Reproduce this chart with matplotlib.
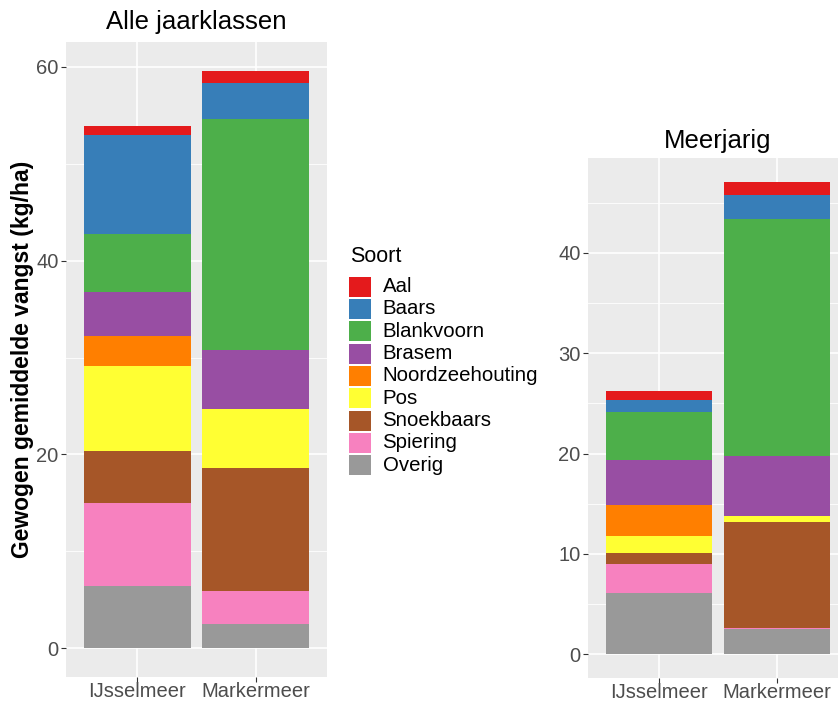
import matplotlib.pyplot as plt
from matplotlib.patches import Rectangle
from matplotlib.ticker import MultipleLocator
import numpy as np

plt.rcParams['font.family'] = ['Liberation Sans', 'DejaVu Sans']

W, H = 838, 702

meren = ['IJsselmeer', 'Markermeer']
soorten = ['Aal', 'Baars', 'Blankvoorn', 'Brasem', 'Noordzeehouting',
           'Pos', 'Snoekbaars', 'Spiering', 'Overig']
kleuren = ['#E41A1C', '#377EB8', '#4DAF4A', '#984EA3', '#FF7F00',
           '#FFFF33', '#A65628', '#F781BF', '#999999']

# vangst in kg/ha, zelfde volgorde als soorten
alle_ijsselmeer = [0.95, 10.25, 5.95, 4.55, 3.07, 8.82, 5.38, 8.54, 6.44]
alle_markermeer = [1.3, 3.7, 23.8, 6.1, 0.0, 6.14, 12.67, 3.41, 2.48]
meerjarig_ijsselmeer = [0.9, 1.25, 4.75, 4.47, 3.06, 1.79, 1.05, 2.86, 6.14]
meerjarig_markermeer = [1.3, 2.45, 23.55, 6.0, 0.0, 0.57, 10.57, 0.13, 2.53]


def px_axes(fig, x0, y0, x1, y1):
    # pixels (links-boven) naar figuurcoordinaten
    return fig.add_axes([x0 / W, 1 - y1 / H, (x1 - x0) / W, (y1 - y0) / H])


def teken_paneel(ax, ijssel, marker, titel, stap, titelpad):
    waarden = np.array([ijssel, marker])
    x = np.arange(len(meren))
    bodem = np.zeros(len(meren))
    # onderste soort eerst, net als in ggplot
    for i in reversed(range(len(soorten))):
        ax.bar(x, waarden[:, i], 0.9, bottom=bodem, color=kleuren[i], linewidth=0, zorder=2)
        bodem += waarden[:, i]
    top = bodem.max()
    ax.set_ylim(-0.05 * top, 1.05 * top)
    ax.set_xlim(-0.6, 1.6)
    ax.set_xticks(x)
    ax.set_xticklabels(meren)
    ax.yaxis.set_major_locator(MultipleLocator(stap))
    ax.yaxis.set_minor_locator(MultipleLocator(stap / 2))
    ax.set_facecolor('#EBEBEB')
    for s in ax.spines.values():
        s.set_visible(False)
    ax.set_axisbelow(True)
    ax.grid(which='major', color='white', linewidth=1.2, zorder=0)
    ax.grid(which='minor', axis='y', color='white', linewidth=0.6, zorder=0)
    ax.tick_params(which='major', length=3.3, width=0.8, color='#333333',
                   labelcolor='#4D4D4D', labelsize=14.5)
    ax.tick_params(axis='y', pad=2)
    ax.tick_params(axis='x', pad=0.5)
    ax.tick_params(which='minor', length=0)
    ax.set_title(titel, fontsize=18.5, pad=titelpad)


fig = plt.figure(figsize=(W / 100, H / 100), dpi=100)

ax1 = px_axes(fig, 66, 42, 327, 677)
teken_paneel(ax1, alle_ijsselmeer, alle_markermeer, 'Alle jaarklassen', 20, 9.5)

ax2 = px_axes(fig, 588, 158, 848, 678)
teken_paneel(ax2, meerjarig_ijsselmeer, meerjarig_markermeer, 'Meerjarig', 10, 7.5)

fig.text(22.5 / W, 1 - 359 / H, 'Gewogen gemiddelde vangst (kg/ha)', rotation=90,
         ha='center', va='center', fontsize=16.5, fontweight='bold')

# legenda
fig.text(350 / W, 1 - 262 / H, 'Soort', fontsize=15.5, ha='left', va='baseline')
for i, (soort, kleur) in enumerate(zip(soorten, kleuren)):
    ytop = 276.7 + i * 22.3
    fig.add_artist(Rectangle((349.3 / W, 1 - (ytop + 20) / H), 21.4 / W, 20 / H,
                             transform=fig.transFigure, facecolor=kleur, linewidth=0))
    fig.text(382.5 / W, 1 - (ytop + 10) / H, soort, fontsize=14.7, ha='left', va='center')

fig.savefig('out.png', dpi=100)
